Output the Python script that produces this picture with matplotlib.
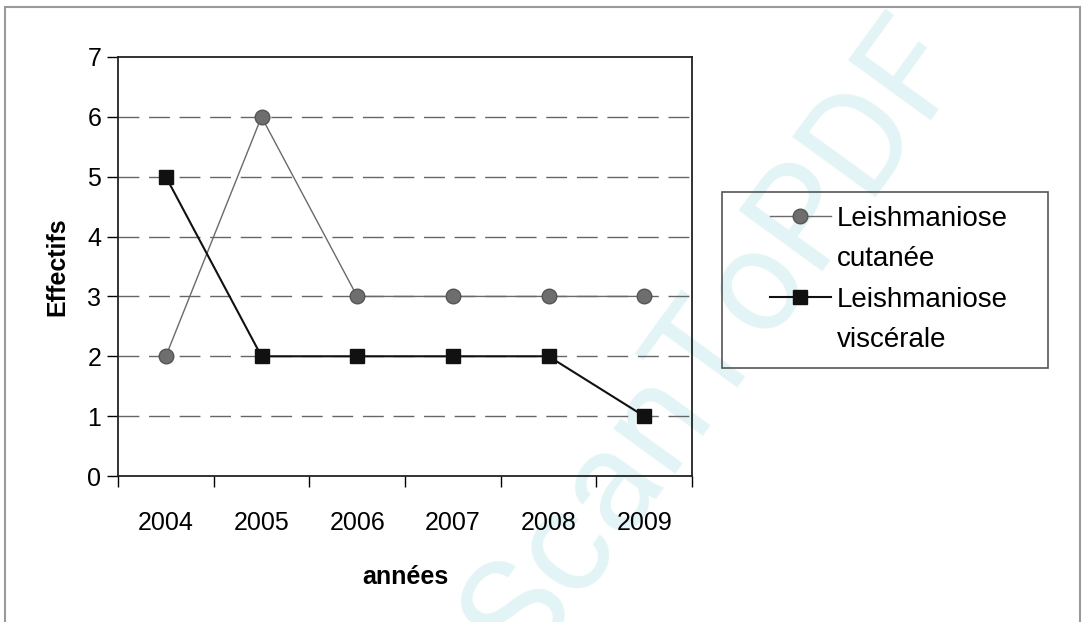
import matplotlib.pyplot as plt
from matplotlib.lines import Line2D
from matplotlib.patches import Rectangle
from matplotlib.ticker import FixedLocator

plt.rcParams['font.family'] = ['Liberation Sans', 'DejaVu Sans']

annees = ['2004', '2005', '2006', '2007', '2008', '2009']
cutanee = [2, 6, 3, 3, 3, 3]
viscerale = [5, 2, 2, 2, 2, 1]

fig = plt.figure(figsize=(10.84, 6.22), dpi=100)

# watermark from the scan, behind everything
fig.text(0.66, 0.45, 'ScanToPDF', fontsize=104, color='#e2f4f6', rotation=54,
         ha='center', va='center', zorder=-5, family=['Roboto', 'Liberation Sans'])

# grey outer frame of the scanned page
fig.patches.append(Rectangle((5 / 1084, -0.01), 1075 / 1084, 1 - 7 / 622 + 0.01,
                             transform=fig.transFigure, fill=False,
                             edgecolor='#9a9a9a', linewidth=1.5))

ax = fig.add_axes([118 / 1084, 1 - 476 / 622, 574 / 1084, 419 / 622])
ax.patch.set_alpha(0)
x = list(range(len(annees)))

l1, = ax.plot(x, cutanee, color='#6a6a6a', linewidth=1, marker='o', markersize=10.5,
              markerfacecolor='#6e6e6e', markeredgecolor='#555555', zorder=3)
l2, = ax.plot(x, viscerale, color='#111111', linewidth=1.5, marker='s', markersize=10.5,
              markerfacecolor='#111111', markeredgecolor='#111111', zorder=4)

ax.set_xlim(-0.5, 5.5)
ax.set_ylim(0, 7)
ax.set_yticks(range(0, 8))
ax.set_xticks(x)
ax.set_xticklabels(annees)
ax.xaxis.set_minor_locator(FixedLocator([i - 0.5 for i in range(7)]))
ax.tick_params(axis='x', which='major', length=0, pad=25, labelsize=18)
ax.tick_params(axis='x', which='minor', length=8, width=1, direction='out')
ax.tick_params(axis='y', length=8, width=1, labelsize=18, pad=4)

for yv in range(1, 7):
    ax.axhline(yv, color='#666666', linewidth=1, dashes=(15, 7), zorder=1)

for s in ax.spines.values():
    s.set_color('#222222')
    s.set_linewidth(1.3)

ax.set_ylabel('Effectifs', fontsize=18, fontweight='bold', labelpad=13)
ax.set_xlabel('années', fontsize=18, fontweight='bold', labelpad=22)

# legend: handle beside the first line of each label
blank = Line2D([], [], linestyle='none')
leg = fig.legend([l1, blank, l2, blank],
                 ['Leishmaniose', 'cutanée', 'Leishmaniose', 'viscérale'],
                 loc='upper left', bbox_to_anchor=(756 / 1084, 1 - 192 / 622),
                 fontsize=20, frameon=False, handlelength=2.2,
                 borderpad=0, labelspacing=0.52, handletextpad=0.2)
fig.patches.append(Rectangle((722 / 1084, 1 - 368 / 622), 326 / 1084, 176 / 622,
                             transform=fig.transFigure, fill=False,
                             edgecolor='#555555', linewidth=1.2))

fig.savefig('out.png', dpi=100)
